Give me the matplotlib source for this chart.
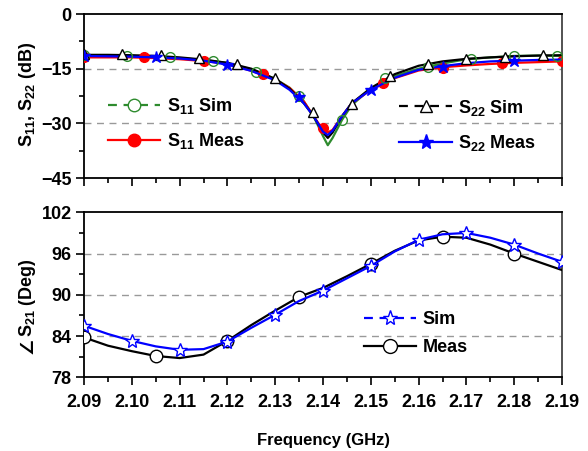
import matplotlib
matplotlib.use("Agg")
import matplotlib.pyplot as plt
from matplotlib.lines import Line2D
from matplotlib.ticker import MultipleLocator

plt.rcParams['font.family'] = ['Liberation Sans', 'DejaVu Sans']
plt.rcParams['font.weight'] = 'bold'
plt.rcParams['mathtext.fontset'] = 'custom'
plt.rcParams['mathtext.rm'] = 'Liberation Sans:bold'
plt.rcParams['mathtext.bf'] = 'Liberation Sans:bold'
plt.rcParams['mathtext.default'] = 'rm'

# top panel: line data (GHz, dB)
freq_top = [2.09, 2.095, 2.10, 2.105, 2.11, 2.115, 2.12, 2.125, 2.13, 2.133,
            2.136, 2.138, 2.140, 2.141, 2.142, 2.144, 2.146, 2.15, 2.155, 2.16,
            2.165, 2.17, 2.175, 2.18, 2.185, 2.19]
s11_sim = [-11.3, -11.5, -11.6, -11.8, -12.1, -12.6, -13.4, -15.2, -17.8, -20.2,
           -24.0, -28.0, -33.5, -36.0, -34.0, -29.0, -25.0, -20.5, -17.0, -15.0,
           -13.6, -12.4, -11.9, -11.5, -11.4, -11.5]
s11_meas = [-11.9, -11.9, -11.9, -12.1, -12.4, -12.9, -13.6, -15.6, -18.0, -20.3,
            -24.0, -28.0, -31.8, -32.5, -31.8, -28.0, -24.5, -20.8, -17.6, -15.5,
            -14.6, -14.1, -13.7, -13.4, -13.2, -13.0]
s22_sim = [-11.2, -11.2, -11.3, -11.5, -11.9, -12.5, -13.4, -15.0, -17.8, -20.5,
           -24.5, -28.0, -32.5, -34.0, -32.5, -28.0, -24.5, -20.3, -16.5, -14.2,
           -13.0, -12.3, -11.9, -11.6, -11.4, -11.3]
s22_meas = [-11.5, -11.6, -11.7, -11.9, -12.2, -12.8, -13.9, -15.6, -18.2, -20.8,
            -24.5, -28.0, -32.3, -33.2, -32.0, -28.0, -24.5, -20.8, -17.5, -15.3,
            -14.3, -13.5, -13.0, -12.8, -12.6, -12.5]

# top panel: symbol positions
s11_sim_mk_f = [2.09, 2.099, 2.108, 2.117, 2.126, 2.135, 2.144, 2.153, 2.162, 2.171, 2.18, 2.189]
s11_sim_mk_v = [-11.3, -11.6, -11.9, -12.8, -15.8, -22.5, -29.0, -17.5, -14.6, -12.3, -11.4, -11.5]
s22_sim_mk_f = [2.09, 2.098, 2.106, 2.114, 2.122, 2.130, 2.138, 2.146, 2.154, 2.162, 2.170, 2.178, 2.186]
s22_sim_mk_v = [-11.0, -11.0, -11.3, -12.0, -13.6, -17.6, -27.0, -24.8, -16.9, -13.8, -12.4, -11.7, -11.3]
s11_meas_mk_f = [2.09, 2.1025, 2.115, 2.1275, 2.14, 2.1525, 2.165, 2.1775, 2.19]
s11_meas_mk_v = [-11.9, -11.9, -13.0, -16.5, -31.2, -18.8, -14.7, -13.5, -13.0]
s22_meas_mk_f = [2.09, 2.105, 2.12, 2.135, 2.15, 2.165, 2.18]
s22_meas_mk_v = [-11.5, -11.9, -14.0, -22.7, -20.9, -14.5, -13.0]

# bottom panel: phase of S21 (deg)
freq_bot = [2.09, 2.095, 2.10, 2.105, 2.11, 2.115, 2.12, 2.125, 2.13, 2.135, 2.14,
            2.145, 2.15, 2.155, 2.16, 2.165, 2.17, 2.175, 2.18, 2.185, 2.19]
s21_sim = [85.5, 84.3, 83.3, 82.5, 82.0, 82.1, 83.2, 85.2, 87.1, 89.1, 90.6,
           92.4, 94.2, 96.3, 98.0, 98.8, 99.0, 98.3, 97.3, 96.0, 94.8]
s21_meas = [83.8, 82.6, 81.8, 81.1, 80.8, 81.3, 83.3, 85.6, 87.7, 89.7, 91.0,
            92.7, 94.5, 96.4, 97.9, 98.45, 98.3, 97.3, 96.0, 94.8, 93.6]

green = '#2e8b2e'
grid_kw = dict(color='#999999', linestyle=(0, (5, 4)), linewidth=1.0, zorder=0)

fig = plt.figure(figsize=(5.88, 4.51), dpi=100)
ax1 = fig.add_axes([0.1429, 0.6053, 0.8129, 0.3636])
ax2 = fig.add_axes([0.1429, 0.1634, 0.8129, 0.3659])

# ---- top panel
ax1.plot(freq_top, s11_sim, color=green, lw=1.6, zorder=2)
ax1.plot(freq_top, s11_meas, color='red', lw=1.6, zorder=2)
ax1.plot(freq_top, s22_sim, color='black', lw=1.6, zorder=3)
ax1.plot(freq_top, s22_meas, color='blue', lw=1.6, zorder=4)
ax1.plot(s11_sim_mk_f, s11_sim_mk_v, 'o', ms=7, mfc='none', mec=green, mew=1.0, zorder=5)
ax1.plot(s11_meas_mk_f, s11_meas_mk_v, 'o', ms=7, mfc='red', mec='red', zorder=3)
ax1.plot(s22_sim_mk_f, s22_sim_mk_v, '^', ms=7, mfc='white', mec='black', mew=1.0, zorder=5)
ax1.plot(s22_meas_mk_f, s22_meas_mk_v, '*', ms=9, mfc='blue', mec='blue', zorder=6)

for v in [-15, -30]:
    ax1.axhline(v, **grid_kw)
ax1.set_xlim(2.09, 2.19)
ax1.set_ylim(-45, 0)
ax1.set_yticks([0, -15, -30, -45])
ax1.yaxis.set_minor_locator(MultipleLocator(7.5))
ax1.xaxis.set_major_locator(MultipleLocator(0.01))
ax1.xaxis.set_minor_locator(MultipleLocator(0.005))
ax1.tick_params(labelbottom=False)
ax1.set_ylabel('S$_{11}$, S$_{22}$ (dB)', fontsize=13, fontweight='bold')
ax1.yaxis.set_label_coords(-0.097, 0.51)

h_s11s = Line2D([], [], color=green, lw=1.6, ls=(0, (4, 3)), marker='o', ms=9,
                mfc='white', mec=green)
h_s11m = Line2D([], [], color='red', lw=1.6, marker='o', ms=9, mfc='red', mec='red')
h_s22s = Line2D([], [], color='black', lw=1.6, ls=(0, (4, 3)), marker='^', ms=9,
                mfc='white', mec='black')
h_s22m = Line2D([], [], color='blue', lw=1.6, marker='*', ms=11, mfc='blue', mec='blue')

leg_kw = dict(frameon=False, fontsize=13, handlelength=2.9, handletextpad=0.35,
              labelspacing=0.85, borderpad=0, borderaxespad=0)
lg1 = ax1.legend([h_s11s, h_s11m], ['S$_{11}$ Sim', 'S$_{11}$ Meas'],
                 loc='upper left', bbox_to_anchor=(0.05, 0.50), **leg_kw)
ax1.add_artist(lg1)
ax1.legend([h_s22s, h_s22m], ['S$_{22}$ Sim', 'S$_{22}$ Meas'],
           loc='upper left', bbox_to_anchor=(0.66, 0.49), **leg_kw)

# ---- bottom panel
ax2.plot(freq_bot, s21_meas, color='black', lw=1.6, marker='o', ms=9,
         mfc='white', mec='black', mew=1.0, markevery=3, zorder=3, label='Meas')
ax2.plot(freq_bot, s21_sim, color='blue', lw=1.6, marker='*', ms=10,
         mfc='white', mec='blue', mew=1.0, markevery=2, zorder=4, label='Sim')
for v in [84, 90, 96]:
    ax2.axhline(v, **grid_kw)
ax2.set_xlim(2.09, 2.19)
ax2.set_ylim(78, 102)
ax2.set_yticks([78, 84, 90, 96, 102])
ax2.yaxis.set_minor_locator(MultipleLocator(3))
ax2.xaxis.set_major_locator(MultipleLocator(0.01))
ax2.xaxis.set_minor_locator(MultipleLocator(0.005))
ax2.set_xticks([2.09 + 0.01 * i for i in range(11)])
ax2.set_xticklabels(['%.2f' % (2.09 + 0.01 * i) for i in range(11)])
ax2.set_ylabel('S$_{21}$ (Deg)', fontsize=13, fontweight='bold')
ax2.yaxis.set_label_coords(-0.097, 0.485)
ax2.set_xlabel('Frequency (GHz)', fontsize=12, fontweight='bold', labelpad=16)

h_sim = Line2D([], [], color='blue', lw=1.6, ls=(0, (4, 3)), marker='*', ms=11,
               mfc='white', mec='blue')
h_meas = Line2D([], [], color='black', lw=1.6, marker='o', ms=10, mfc='white', mec='black')
ax2.legend([h_sim, h_meas], ['Sim', 'Meas'], loc='upper left',
           bbox_to_anchor=(0.585, 0.40), **dict(leg_kw, labelspacing=0.6))

for ax in (ax1, ax2):
    ax.tick_params(which='major', direction='out', length=6, width=1.2,
                   labelsize=13, top=False, right=False, pad=3)
    ax.tick_params(which='minor', direction='out', length=3.5, width=1.2,
                   top=False, right=False)
    for lab in ax.get_xticklabels() + ax.get_yticklabels():
        lab.set_fontweight('bold')
    for sp in ax.spines.values():
        sp.set_linewidth(1.3)
    ax.spines['right'].set_color('#444444')
ax2.tick_params(axis='x', which='major', pad=6)

# angle sign in front of the S21 label, drawn in a font that has the glyph
fig.canvas.draw()
bb = ax2.yaxis.label.get_window_extent(fig.canvas.get_renderer())
fig.text((bb.x0 + bb.x1) / 2 / fig.bbox.width, (bb.y0 - 1) / fig.bbox.height,
         '\u2220', family='DejaVu Sans', fontsize=13, fontweight='bold',
         rotation=90, ha='center', va='top')

fig.savefig('out.png', dpi=100)
